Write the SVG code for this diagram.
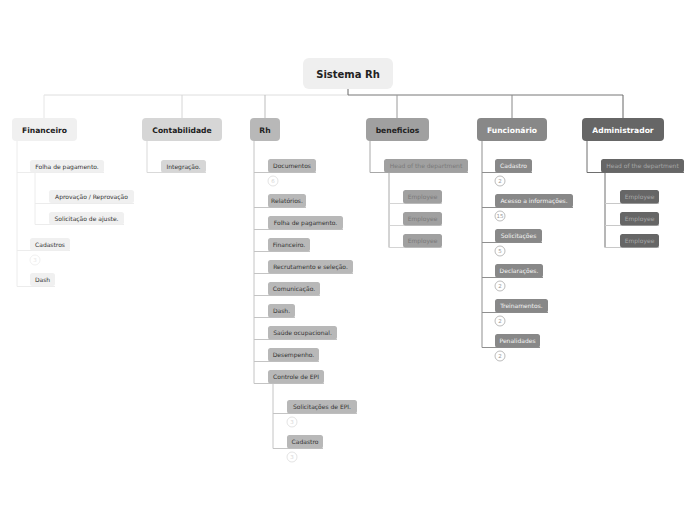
<svg xmlns="http://www.w3.org/2000/svg" width="696" height="520" viewBox="0 0 696 520">
<style>
text{font-family:"DejaVu Sans",Verdana,sans-serif;dominant-baseline:central;text-anchor:middle}
.h{font-weight:bold;font-size:7.6px}
.s{font-size:6px}
.c{fill:none}
line,path{fill:none;stroke-width:1}
.n{fill:#ffffff;stroke-width:0.8}
.cn{font-size:5.5px}
</style>
<rect width="696" height="520" fill="#ffffff"/>
<g id="connectors">
  <path d="M348 89V95H44" stroke="#dedede"/>
  <path d="M348 95H623" stroke="#777777"/>
  <path d="M348 89V95" stroke="#777777"/>
  <line x1="44" y1="95" x2="44" y2="119" stroke="#e6e6e6"/>
  <line x1="182" y1="95" x2="182" y2="119" stroke="#d6d6d6"/>
  <line x1="265" y1="95" x2="265" y2="119" stroke="#bdbdbd"/>
  <line x1="397" y1="95" x2="397" y2="119" stroke="#9a9a9a"/>
  <line x1="512" y1="95" x2="512" y2="119" stroke="#888888"/>
  <line x1="623" y1="95" x2="623" y2="119" stroke="#666666"/>
  <!-- Financeiro -->
  <g stroke="#ececec">
    <path d="M17 141V286.5H55"/>
    <path d="M17 172.5H104"/>
    <path d="M17 250.5H70"/>
    <path d="M35 172.5V224.5H124"/>
    <path d="M35 203.5H134"/>
  </g>
  <!-- Contabilidade -->
  <path d="M147 141V172.5H206" stroke="#d9d9d9"/>
  <!-- Rh -->
  <g stroke="#c4c4c4">
    <path d="M254 141V383.5H324"/>
    <path d="M254 172.5H316"/>
    <path d="M254 207.5H306"/>
    <path d="M254 229.5H343"/>
    <path d="M254 251.5H310"/>
    <path d="M254 273.5H353"/>
    <path d="M254 295.5H320"/>
    <path d="M254 317.5H295"/>
    <path d="M254 339.5H337"/>
    <path d="M254 361.5H319"/>
    <path d="M273 383.5V448.5H323"/>
    <path d="M273 413.5H357"/>
  </g>
  <!-- beneficios -->
  <path d="M370 141V172.5H468" stroke="#a8a8a8"/>
  <path d="M389 172.5V247.5" stroke="#a8a8a8"/>
  <g stroke="#d4d4d4">
    <path d="M389 203.5H442"/>
    <path d="M389 225.5H442"/>
    <path d="M389 247.5H442"/>
  </g>
  <!-- Funcionário -->
  <g stroke="#8f8f8f">
    <path d="M482 141V347.5H540"/>
    <path d="M482 172.5H532"/>
    <path d="M482 207.5H573"/>
    <path d="M482 242.5H542"/>
    <path d="M482 277.5H543"/>
    <path d="M482 312.5H548"/>
  </g>
  <!-- Administrador -->
  <path d="M587 141V172.5H684" stroke="#6e6e6e"/>
  <path d="M605 172.5V247.5" stroke="#6e6e6e"/>
  <g stroke="#c8c8c8">
    <path d="M605 203.5H659"/>
    <path d="M605 225.5H659"/>
    <path d="M605 247.5H659"/>
  </g>
</g>

<g id="root">
  <rect x="303" y="58" width="90" height="31" rx="6" fill="#efefef"/>
  <text x="348" y="74" style="font-weight:bold;font-size:10px" fill="#222">Sistema Rh</text>
</g>

<g id="financeiro">
  <rect x="12" y="118" width="65" height="23" rx="4" fill="#f0f0f0"/>
  <text class="h" x="44.5" y="130" fill="#222">Financeiro</text>
  <g id="fin-folha"><rect x="30" y="160" width="74" height="12.5" rx="2.5" fill="#f0f0f0"/><text class="s" x="67" y="166.3" fill="#333">Folha de pagamento.</text></g>
  <g id="fin-aprov"><rect x="49" y="190" width="85" height="13" rx="2.5" fill="#f0f0f0"/><text class="s" x="91.5" y="196.5" fill="#333">Aprovação / Reprovação</text></g>
  <g id="fin-solic"><rect x="49" y="212" width="75" height="12.5" rx="2.5" fill="#f0f0f0"/><text class="s" x="86.5" y="218.3" fill="#333">Solicitação de ajuste.</text></g>
  <g id="fin-cad"><rect x="30" y="238" width="40" height="12.5" rx="2.5" fill="#f0f0f0"/><text class="s" x="50" y="244.3" fill="#333">Cadastros</text>
    <circle class="n" cx="35" cy="260" r="5" stroke="#ececec"/><text class="cn" x="35" y="260" fill="#e6e6e6">3</text></g>
  <g id="fin-dash"><rect x="30" y="273" width="25" height="13" rx="2.5" fill="#f0f0f0"/><text class="s" x="42.5" y="279.5" fill="#333">Dash</text></g>
</g>

<g id="contabilidade">
  <rect x="142" y="118" width="80" height="23" rx="4" fill="#d6d6d6"/>
  <text class="h" x="182" y="130" fill="#222">Contabilidade</text>
  <g id="cont-int"><rect x="161" y="160" width="45" height="12.5" rx="2.5" fill="#d6d6d6"/><text class="s" x="183.5" y="166.3" fill="#333">Integração.</text></g>
</g>

<g id="rh">
  <rect x="250" y="118" width="30" height="23" rx="4" fill="#b8b8b8"/>
  <text class="h" x="265" y="130" fill="#222">Rh</text>
  <g fill="#b8b8b8">
    <rect x="268" y="159" width="48" height="13.5" rx="2.5"/>
    <rect x="268" y="194" width="38" height="13.5" rx="2.5"/>
    <rect x="268" y="216" width="75" height="13.5" rx="2.5"/>
    <rect x="268" y="238" width="42" height="13.5" rx="2.5"/>
    <rect x="268" y="260" width="85" height="13.5" rx="2.5"/>
    <rect x="268" y="282" width="52" height="13.5" rx="2.5"/>
    <rect x="268" y="304" width="27" height="13.5" rx="2.5"/>
    <rect x="268" y="326" width="69" height="13.5" rx="2.5"/>
    <rect x="268" y="348" width="51" height="13.5" rx="2.5"/>
    <rect x="268" y="370" width="56" height="13.5" rx="2.5"/>
    <rect x="287" y="400" width="70" height="13.5" rx="2.5"/>
    <rect x="287" y="435" width="36" height="13.5" rx="2.5"/>
  </g>
  <g class="s" fill="#333">
    <text class="s" x="292" y="165.8">Documentos</text>
    <text class="s" x="287" y="200.8">Relatórios.</text>
    <text class="s" x="305.5" y="222.8">Folha de pagamento.</text>
    <text class="s" x="289" y="244.8">Financeiro.</text>
    <text class="s" x="310.5" y="266.8">Recrutamento e seleção.</text>
    <text class="s" x="294" y="288.8">Comunicação.</text>
    <text class="s" x="281.5" y="310.8">Dash.</text>
    <text class="s" x="302.5" y="332.8">Saúde ocupacional.</text>
    <text class="s" x="293.5" y="354.8">Desempenho.</text>
    <text class="s" x="296" y="376.8">Controle de EPI</text>
    <text class="s" x="322" y="406.8">Solicitações de EPI.</text>
    <text class="s" x="305" y="441.8">Cadastro</text>
  </g>
  <g>
    <circle class="n" cx="273" cy="181" r="5" stroke="#dcdcdc"/><text class="cn" x="273" y="181" fill="#d6d6d6">6</text>
    <circle class="n" cx="292" cy="422" r="5" stroke="#dcdcdc"/><text class="cn" x="292" y="422" fill="#d6d6d6">3</text>
    <circle class="n" cx="292" cy="457" r="5" stroke="#dcdcdc"/><text class="cn" x="292" y="457" fill="#d6d6d6">3</text>
  </g>
</g>

<g id="beneficios">
  <rect x="366" y="118" width="63" height="23" rx="4" fill="#a0a0a0"/>
  <text class="h" x="397.5" y="130" fill="#222">beneficios</text>
  <g fill="#a0a0a0">
    <rect x="384" y="159" width="84" height="13.5" rx="2.5"/>
    <rect x="403" y="190" width="39" height="13.5" rx="2.5"/>
    <rect x="403" y="212" width="39" height="13.5" rx="2.5"/>
    <rect x="403" y="234" width="39" height="13.5" rx="2.5"/>
  </g>
  <g fill="#7a7a7a">
    <text class="s" x="426" y="165.8">Head of the department</text>
    <text class="s" x="422.5" y="196.8">Employee</text>
    <text class="s" x="422.5" y="218.8">Employee</text>
    <text class="s" x="422.5" y="240.8">Employee</text>
  </g>
</g>

<g id="funcionario">
  <rect x="477" y="118" width="70" height="23" rx="4" fill="#888888"/>
  <text class="h" x="512" y="130" fill="#ffffff">Funcionário</text>
  <g fill="#888888">
    <rect x="495" y="159" width="37" height="13.5" rx="2.5"/>
    <rect x="495" y="194" width="78" height="13.5" rx="2.5"/>
    <rect x="495" y="229" width="47" height="13.5" rx="2.5"/>
    <rect x="495" y="264" width="48" height="13.5" rx="2.5"/>
    <rect x="495" y="299" width="53" height="13.5" rx="2.5"/>
    <rect x="495" y="334" width="45" height="13.5" rx="2.5"/>
  </g>
  <g fill="#f4f4f4">
    <text class="s" x="513.5" y="165.8">Cadastro</text>
    <text class="s" x="534" y="200.8">Acesso a informações.</text>
    <text class="s" x="518.5" y="235.8">Solicitações</text>
    <text class="s" x="519" y="270.8">Declarações.</text>
    <text class="s" x="521.5" y="305.8">Treinamentos.</text>
    <text class="s" x="517.5" y="340.8">Penalidades</text>
  </g>
  <g>
    <circle class="n" cx="500" cy="181" r="5" stroke="#aaaaaa"/><text class="cn" x="500" y="181" fill="#999">2</text>
    <circle class="n" cx="500" cy="216" r="5" stroke="#aaaaaa"/><text class="cn" x="500" y="216" fill="#999">15</text>
    <circle class="n" cx="500" cy="251" r="5" stroke="#aaaaaa"/><text class="cn" x="500" y="251" fill="#999">5</text>
    <circle class="n" cx="500" cy="286" r="5" stroke="#aaaaaa"/><text class="cn" x="500" y="286" fill="#999">2</text>
    <circle class="n" cx="500" cy="321" r="5" stroke="#aaaaaa"/><text class="cn" x="500" y="321" fill="#999">2</text>
    <circle class="n" cx="500" cy="356" r="5" stroke="#aaaaaa"/><text class="cn" x="500" y="356" fill="#999">2</text>
  </g>
</g>

<g id="administrador">
  <rect x="582" y="118" width="82" height="23" rx="4" fill="#666666"/>
  <text class="h" x="623" y="130" fill="#ffffff">Administrador</text>
  <g fill="#666666">
    <rect x="601" y="159" width="83" height="13.5" rx="2.5"/>
    <rect x="620" y="190" width="39" height="13.5" rx="2.5"/>
    <rect x="620" y="212" width="39" height="13.5" rx="2.5"/>
    <rect x="620" y="234" width="39" height="13.5" rx="2.5"/>
  </g>
  <g fill="#a6a6a6">
    <text class="s" x="642.5" y="165.8">Head of the department</text>
    <text class="s" x="639.5" y="196.8">Employee</text>
    <text class="s" x="639.5" y="218.8">Employee</text>
    <text class="s" x="639.5" y="240.8">Employee</text>
  </g>
</g>
</svg>
